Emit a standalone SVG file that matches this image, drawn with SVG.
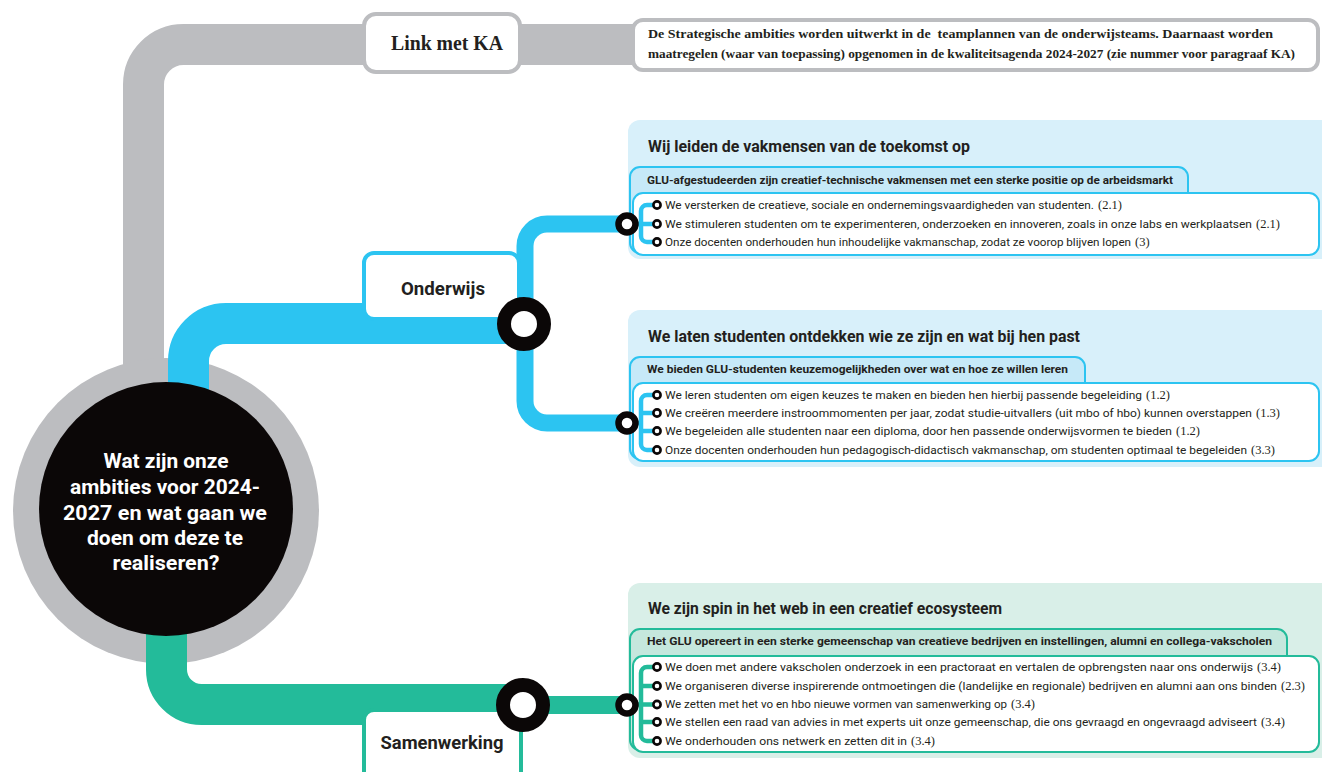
<svg xmlns="http://www.w3.org/2000/svg" width="1322" height="772" viewBox="0 0 1322 772">
<style>
.grey{stroke:#bcbdc0;fill:none}
.blue{stroke:#2cc4f1;fill:none}
.green{stroke:#23bb9a;fill:none}
.ring{fill:#fff;stroke:#0b0707}
.big{stroke-width:14}
.mid{stroke-width:6.5}
.tiny{stroke-width:2.6}
.sans{font-family:Roboto,"Liberation Sans",sans-serif;fill:#231f20}
.title{font-size:17px;font-weight:700}
.tab{font-size:11.5px;font-weight:700}
.item{font-size:11.2px}
.num{font-family:"Liberation Serif",serif;font-size:12.5px;fill:#231f20}
.lbl{font-size:19px;font-weight:700}
</style>
<rect width="1322" height="772" fill="#fff"/>

<g id="connectors">
  <path class="grey" stroke-width="41" d="M143.5 400 V84.5 A40 40 0 0 1 183.5 44.5 H640"/>
  <circle cx="166" cy="511" r="153" fill="#bcbdc0"/>
  <path class="blue" stroke-width="41" d="M188.5 420 V361 A37.5 37.5 0 0 1 226 323.5 H524"/>
  <path class="blue" stroke-width="17" d="M627 224 H547 A22 22 0 0 0 525 246 V401 A22 22 0 0 0 547 423 H627"/>
  <path class="green" stroke-width="41" d="M166.5 600 V669.5 A35 35 0 0 0 201.5 704.5 H523"/>
  <path class="green" stroke-width="18" d="M523 705 H627"/>
</g>

<g id="center">
  <circle cx="166" cy="509" r="127" fill="#0b0707"/>
  <g font-family="Roboto,'Liberation Sans',sans-serif" font-weight="700" font-size="21" fill="#fff" text-anchor="middle">
    <text x="166" y="468" textLength="125" lengthAdjust="spacingAndGlyphs">Wat zijn onze</text>
    <text x="165" y="494" textLength="190" lengthAdjust="spacingAndGlyphs">ambities voor 2024-</text>
    <text x="165" y="520" textLength="204" lengthAdjust="spacingAndGlyphs">2027 en wat gaan we</text>
    <text x="165" y="545" textLength="156" lengthAdjust="spacingAndGlyphs">doen om deze te</text>
    <text x="166" y="570" textLength="107" lengthAdjust="spacingAndGlyphs">realiseren?</text>
  </g>
</g>

<g id="link-ka">
  <rect x="364" y="14" width="156" height="58" rx="12" fill="#fff" stroke="#bcbdc0" stroke-width="4"/>
  <text x="447" y="50" text-anchor="middle" font-family="'Liberation Serif',serif" font-weight="700" font-size="20" fill="#231f20" textLength="112" lengthAdjust="spacingAndGlyphs">Link met KA</text>
</g>

<g id="ka-text">
  <rect x="633" y="20" width="685" height="50" rx="10" fill="#fff" stroke="#bcbdc0" stroke-width="4"/>
  <g font-family="'Liberation Serif',serif" font-weight="700" font-size="12" fill="#231f20">
    <text x="648" y="38" textLength="625" lengthAdjust="spacingAndGlyphs" xml:space="preserve">De Strategische ambities worden uitwerkt in de  teamplannen van de onderwijsteams. Daarnaast worden</text>
    <text x="648" y="58" textLength="647" lengthAdjust="spacingAndGlyphs">maatregelen (waar van toepassing) opgenomen in de kwaliteitsagenda 2024-2027 (zie nummer voor paragraaf KA)</text>
  </g>
</g>

<g id="onderwijs">
  <rect x="364" y="253" width="155" height="66" rx="10" fill="#fff" stroke="#2cc4f1" stroke-width="4"/>
  <text class="sans lbl" x="443" y="295" text-anchor="middle" textLength="84" lengthAdjust="spacingAndGlyphs">Onderwijs</text>
</g>

<g id="samenwerking">
  <rect x="364" y="710" width="157" height="80" rx="10" fill="#fff" stroke="#23bb9a" stroke-width="4"/>
  <text class="sans lbl" x="442" y="749" text-anchor="middle" textLength="123" lengthAdjust="spacingAndGlyphs">Samenwerking</text>
</g>

<g id="section-vakmensen">
  <rect x="628" y="120" width="720" height="139" rx="12" fill="#d8f0fa"/>
  <text class="sans title" x="648" y="152" textLength="322" lengthAdjust="spacingAndGlyphs">Wij leiden de vakmensen van de toekomst op</text>
  <rect x="630" y="167" width="558" height="86" rx="10" fill="#c6e9f8" stroke="#2cc4f1" stroke-width="2"/>
  <text class="sans tab" x="647" y="184" textLength="526" lengthAdjust="spacingAndGlyphs">GLU-afgestudeerden zijn creatief-technische vakmensen met een sterke positie op de arbeidsmarkt</text>
  <rect x="633" y="193" width="686" height="62" rx="10" fill="#fff" stroke="#2cc4f1" stroke-width="2"/>
  <path class="blue" stroke-width="4.5" d="M655 205 H647 A6 6 0 0 0 641 211 V236 A6 6 0 0 0 647 242 H655 M627 224 H655"/>
  <text class="sans item" x="665" y="209" textLength="429" lengthAdjust="spacingAndGlyphs">We versterken de creatieve, sociale en ondernemingsvaardigheden van studenten.</text>
  <text class="num" x="1098" y="209">(2.1)</text>
  <text class="sans item" x="665" y="228" textLength="587" lengthAdjust="spacingAndGlyphs">We stimuleren studenten om te experimenteren, onderzoeken en innoveren, zoals in onze labs en werkplaatsen</text>
  <text class="num" x="1256" y="228">(2.1)</text>
  <text class="sans item" x="665" y="246" textLength="466" lengthAdjust="spacingAndGlyphs">Onze docenten onderhouden hun inhoudelijke vakmanschap, zodat ze voorop blijven lopen</text>
  <text class="num" x="1135" y="246">(3)</text>
</g>

<g id="section-ontdekken">
  <rect x="628" y="310" width="720" height="157" rx="12" fill="#d8f0fa"/>
  <text class="sans title" x="648" y="342" textLength="432" lengthAdjust="spacingAndGlyphs">We laten studenten ontdekken wie ze zijn en wat bij hen past</text>
  <rect x="630" y="357" width="455" height="102" rx="10" fill="#c6e9f8" stroke="#2cc4f1" stroke-width="2"/>
  <text class="sans tab" x="647" y="373" textLength="421" lengthAdjust="spacingAndGlyphs">We bieden GLU-studenten keuzemogelijkheden over wat en hoe ze willen leren</text>
  <rect x="633" y="383" width="686" height="78" rx="10" fill="#fff" stroke="#2cc4f1" stroke-width="2"/>
  <path class="blue" stroke-width="4.5" d="M655 395 H647 A6 6 0 0 0 641 401 V444 A6 6 0 0 0 647 450 H655 M641 413 H655 M641 431 H655 M627 423 H641"/>
  <text class="sans item" x="665" y="399" textLength="477" lengthAdjust="spacingAndGlyphs">We leren studenten om eigen keuzes te maken en bieden hen hierbij passende begeleiding</text>
  <text class="num" x="1146" y="399">(1.2)</text>
  <text class="sans item" x="665" y="417" textLength="587" lengthAdjust="spacingAndGlyphs">We creëren meerdere instroommomenten per jaar, zodat studie-uitvallers (uit mbo of hbo) kunnen overstappen</text>
  <text class="num" x="1256" y="417">(1.3)</text>
  <text class="sans item" x="665" y="435" textLength="507" lengthAdjust="spacingAndGlyphs">We begeleiden alle studenten naar een diploma, door hen passende onderwijsvormen te bieden</text>
  <text class="num" x="1176" y="435">(1.2)</text>
  <text class="sans item" x="665" y="454" textLength="582" lengthAdjust="spacingAndGlyphs">Onze docenten onderhouden hun pedagogisch-didactisch vakmanschap, om studenten optimaal te begeleiden</text>
  <text class="num" x="1251" y="454">(3.3)</text>
</g>

<g id="section-ecosysteem">
  <rect x="628" y="583" width="720" height="175" rx="12" fill="#d9efe8"/>
  <text class="sans title" x="648" y="614" textLength="354" lengthAdjust="spacingAndGlyphs">We zijn spin in het web in een creatief ecosysteem</text>
  <rect x="630" y="629" width="657" height="121" rx="10" fill="#c5e7dd" stroke="#23bb9a" stroke-width="2"/>
  <text class="sans tab" x="647" y="645" textLength="625" lengthAdjust="spacingAndGlyphs">Het GLU opereert in een sterke gemeenschap van creatieve bedrijven en instellingen, alumni en collega-vakscholen</text>
  <rect x="633" y="656" width="686" height="96" rx="10" fill="#fff" stroke="#23bb9a" stroke-width="2"/>
  <path class="green" stroke-width="4.5" d="M655 667 H647 A6 6 0 0 0 641 673 V735 A6 6 0 0 0 647 741 H655 M641 686 H655 M641 722 H655 M627 704.5 H655"/>
  <text class="sans item" x="665" y="671" textLength="588" lengthAdjust="spacingAndGlyphs">We doen met andere vakscholen onderzoek in een practoraat en vertalen de opbrengsten naar ons onderwijs</text>
  <text class="num" x="1257" y="671">(3.4)</text>
  <text class="sans item" x="665" y="690" textLength="612" lengthAdjust="spacingAndGlyphs">We organiseren diverse inspirerende ontmoetingen die (landelijke en regionale) bedrijven en alumni aan ons binden</text>
  <text class="num" x="1281" y="690">(2.3)</text>
  <text class="sans item" x="665" y="708" textLength="342" lengthAdjust="spacingAndGlyphs">We zetten met het vo en hbo nieuwe vormen van samenwerking op</text>
  <text class="num" x="1011" y="708">(3.4)</text>
  <text class="sans item" x="665" y="726" textLength="592" lengthAdjust="spacingAndGlyphs">We stellen een raad van advies in met experts uit onze gemeenschap, die ons gevraagd en ongevraagd adviseert</text>
  <text class="num" x="1261" y="726">(3.4)</text>
  <text class="sans item" x="665" y="745" textLength="242" lengthAdjust="spacingAndGlyphs">We onderhouden ons netwerk en zetten dit in</text>
  <text class="num" x="911" y="745">(3.4)</text>
</g>

<g id="junctions">
  <circle class="ring big" cx="524" cy="324" r="20"/>
  <circle class="ring big" cx="523" cy="705" r="20"/>
  <circle class="ring mid" cx="627" cy="224" r="8.5"/>
  <circle class="ring mid" cx="627" cy="423" r="8.5"/>
  <circle class="ring mid" cx="627" cy="705" r="8.5"/>
  <g class="ring tiny">
    <circle cx="657" cy="205" r="3.6"/><circle cx="657" cy="224" r="3.6"/><circle cx="657" cy="242" r="3.6"/>
    <circle cx="657" cy="395" r="3.6"/><circle cx="657" cy="413" r="3.6"/><circle cx="657" cy="431" r="3.6"/><circle cx="657" cy="450" r="3.6"/>
    <circle cx="657" cy="667" r="3.6"/><circle cx="657" cy="686" r="3.6"/><circle cx="657" cy="704.5" r="3.6"/><circle cx="657" cy="722" r="3.6"/><circle cx="657" cy="741" r="3.6"/>
  </g>
</g>
</svg>
